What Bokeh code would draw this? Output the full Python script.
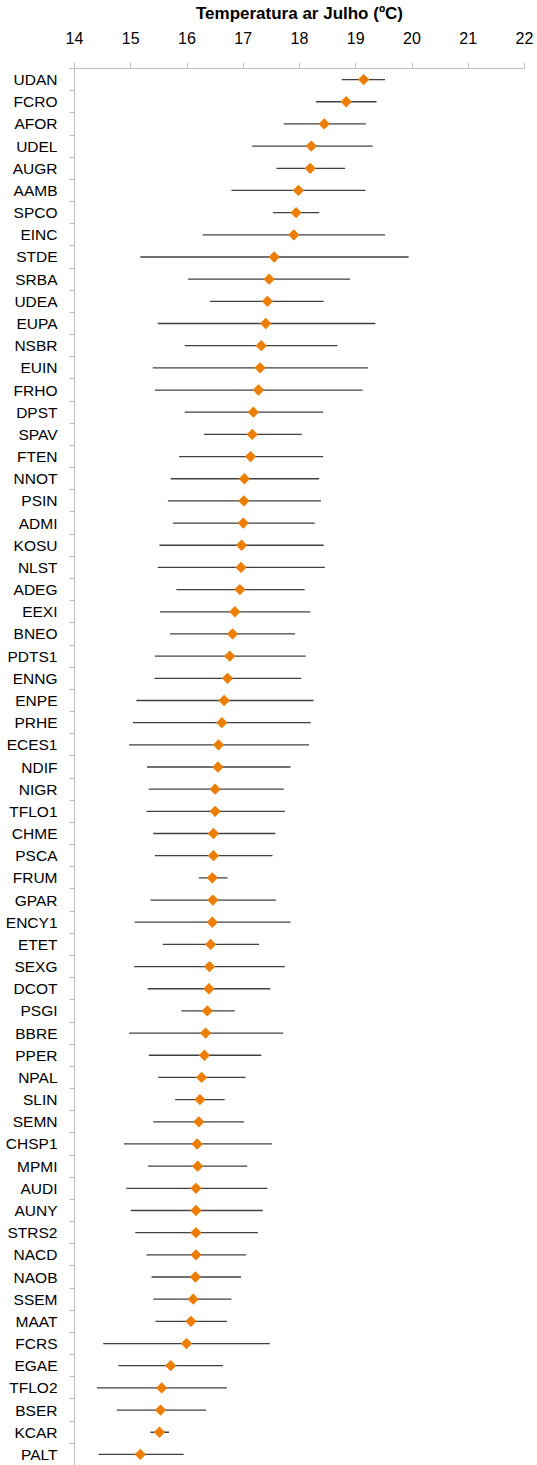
import math

from bokeh.embed import file_html
from bokeh.models import FixedTicker, Range1d
from bokeh.plotting import figure
from bokeh.resources import INLINE

# Stations, ordered from warmest to coolest mean July air temperature
stations = [
    "UDAN", "FCRO", "AFOR", "UDEL", "AUGR", "AAMB", "SPCO", "EINC", "STDE", "SRBA",
    "UDEA", "EUPA", "NSBR", "EUIN", "FRHO", "DPST", "SPAV", "FTEN", "NNOT", "PSIN",
    "ADMI", "KOSU", "NLST", "ADEG", "EEXI", "BNEO", "PDTS1", "ENNG", "ENPE", "PRHE",
    "ECES1", "NDIF", "NIGR", "TFLO1", "CHME", "PSCA", "FRUM", "GPAR", "ENCY1", "ETET",
    "SEXG", "DCOT", "PSGI", "BBRE", "PPER", "NPAL", "SLIN", "SEMN", "CHSP1", "MPMI",
    "AUDI", "AUNY", "STRS2", "NACD", "NAOB", "SSEM", "MAAT", "FCRS", "EGAE", "TFLO2",
    "BSER", "KCAR", "PALT",
]

# Mean July air temperature (ºC)
temp_mean = [
    19.14, 18.83, 18.44, 18.21, 18.19, 17.98, 17.94, 17.90, 17.55, 17.46,
    17.43, 17.40, 17.32, 17.30, 17.27, 17.18, 17.16, 17.13, 17.02, 17.01,
    17.00, 16.97, 16.96, 16.94, 16.85, 16.81, 16.76, 16.72, 16.66, 16.62,
    16.56, 16.55, 16.50, 16.50, 16.47, 16.47, 16.45, 16.46, 16.45, 16.42,
    16.40, 16.39, 16.36, 16.33, 16.31, 16.26, 16.23, 16.21, 16.18, 16.19,
    16.16, 16.16, 16.16, 16.16, 16.15, 16.11, 16.07, 15.99, 15.71, 15.55,
    15.53, 15.51, 15.17,
]

# Lower end of the range (ºC)
temp_low = [
    18.75, 18.29, 17.72, 17.16, 17.59, 16.79, 17.53, 16.28, 15.17, 16.02,
    16.41, 15.48, 15.96, 15.39, 15.43, 15.96, 16.30, 15.86, 15.71, 15.66,
    15.75, 15.51, 15.48, 15.81, 15.52, 15.70, 15.43, 15.42, 15.10, 15.04,
    14.97, 15.29, 15.32, 15.28, 15.40, 15.43, 16.21, 15.35, 15.07, 15.57,
    15.06, 15.30, 15.90, 14.97, 15.32, 15.49, 15.79, 15.40, 14.88, 15.31,
    14.92, 15.00, 15.08, 15.28, 15.37, 15.40, 15.44, 14.51, 14.78, 14.40,
    14.75, 15.35, 14.43,
]

# Upper end of the range (ºC)
temp_high = [
    19.52, 19.37, 19.18, 19.30, 18.81, 19.17, 18.35, 19.52, 19.94, 18.90,
    18.43, 19.35, 18.67, 19.22, 19.12, 18.42, 18.04, 18.42, 18.35, 18.38,
    18.27, 18.43, 18.45, 18.09, 18.19, 17.92, 18.11, 18.03, 18.25, 18.20,
    18.17, 17.84, 17.72, 17.74, 17.57, 17.52, 16.72, 17.58, 17.84, 17.28,
    17.74, 17.48, 16.85, 17.71, 17.32, 17.04, 16.67, 17.01, 17.51, 17.07,
    17.43, 17.35, 17.26, 17.05, 16.96, 16.79, 16.71, 17.47, 16.64, 16.71,
    16.34, 15.68, 15.94,
]

x_ticks = [14, 15, 16, 17, 18, 19, 20, 21, 22]

rows = list(range(len(stations)))
font = "Liberation Sans"
axis_grey = "#BFBFBF"

p = figure(
    width=537, height=1465,
    output_backend="svg", toolbar_location=None,
    x_range=Range1d(14, 22),
    y_range=Range1d(len(stations) - 0.5, -0.5),
    x_axis_location="above",
    min_border_left=74, min_border_right=13,
    min_border_top=68, min_border_bottom=0,
)
p.outline_line_color = None
p.xgrid.visible = False
p.ygrid.visible = False
p.background_fill_color = "white"
p.border_fill_color = "white"

# Top temperature axis
xa = p.xaxis[0]
xa.ticker = FixedTicker(ticks=x_ticks)
xa.axis_label = "Temperatura ar Julho (ºC)"
xa.axis_label_text_font = font
xa.axis_label_text_font_style = "bold"
xa.axis_label_text_font_size = "17px"
xa.axis_label_text_color = "#000000"
xa.axis_label_standoff = 6
xa.major_label_text_font = font
xa.major_label_text_font_size = "16px"
xa.major_label_text_color = "#000000"
xa.major_label_standoff = 19
xa.axis_line_color = axis_grey
xa.major_tick_line_color = axis_grey
xa.major_tick_out = 6
xa.major_tick_in = 0
xa.minor_tick_line_color = None

# Station axis: names at row centres, small ticks between rows
ya = p.yaxis[0]
ya.ticker = FixedTicker(ticks=rows, minor_ticks=[r - 0.5 for r in rows] + [len(rows) - 0.5])
ya.major_label_overrides = {r: s for r, s in zip(rows, stations)}
ya.major_label_text_font = font
ya.major_label_text_font_size = "15.5px"
ya.major_label_text_color = "#000000"
ya.major_label_standoff = 12
ya.major_tick_out = 0
ya.major_tick_in = 0
ya.minor_tick_out = 5
ya.minor_tick_in = 0
ya.minor_tick_line_color = axis_grey
ya.axis_line_color = axis_grey

# Range bars and mean markers
p.segment(x0=temp_low, y0=rows, x1=temp_high, y1=rows,
          line_color="#404040", line_width=1.3)
p.scatter(x=temp_mean, y=rows, marker="square", size=8, angle=math.pi / 4,
          fill_color="#EC7E05", line_color=None)

open("out.html", "w").write(file_html(p, INLINE))
